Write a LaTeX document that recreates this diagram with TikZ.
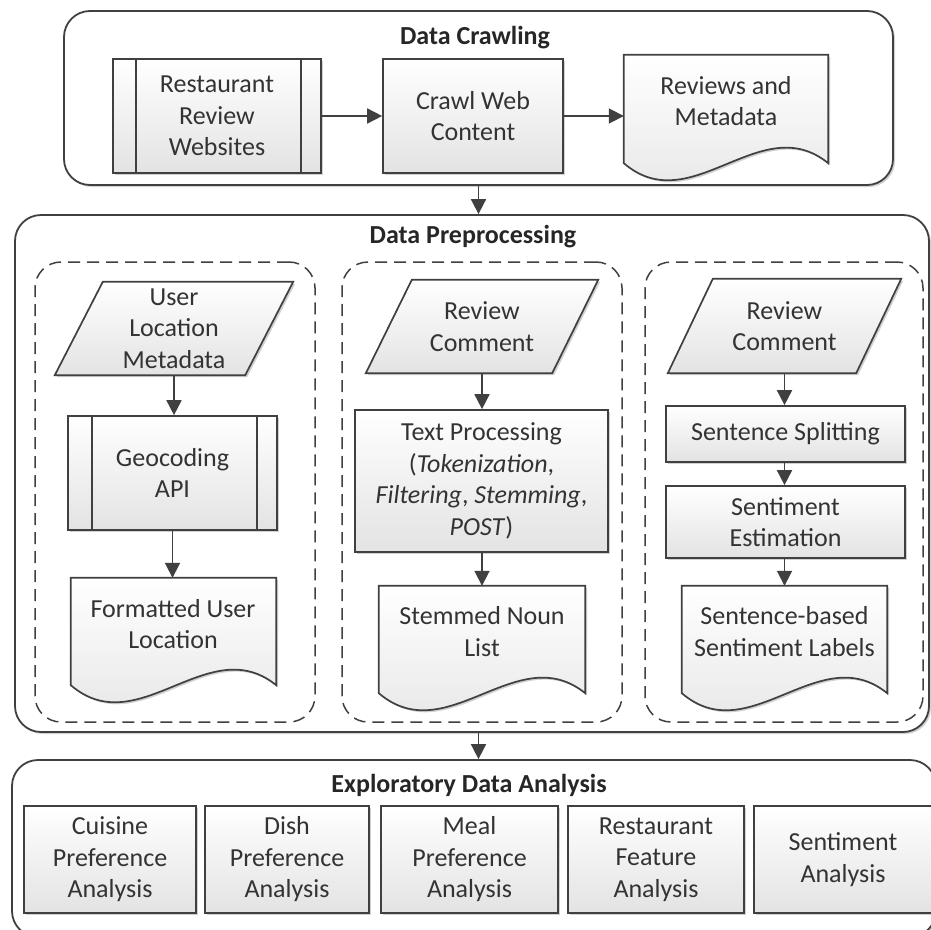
\documentclass[tikz,border=0pt]{standalone}
\usepackage{fontspec}
\setmainfont{Carlito}
\usetikzlibrary{arrows.meta,calc,shadows}
\definecolor{edge}{HTML}{404040}
\definecolor{txt}{HTML}{333333}
\pgfdeclarelayer{background}
\pgfdeclarelayer{shapes}
\pgfsetlayers{background,shapes,main}
\tikzset{
 every node/.style={font=\fontsize{26}{31.5}\selectfont, text=txt, align=center, inner sep=0pt},
 shd/.style={drop shadow={shadow xshift=2pt, shadow yshift=-2pt, opacity=0.18, fill=black}},
 container/.style={draw=edge, line width=1.8pt, rounded corners=26pt, fill=white, shd},
 grp/.style={draw=edge, line width=1.5pt, dash pattern=on 12pt off 7pt, rounded corners=26pt},
 ttl/.style={font=\fontsize{26}{31.5}\selectfont\bfseries, text=black!85},
 proc/.style={draw=edge, line width=1.7pt, top color=white, bottom color=black!11, shd},
 slot/.style={draw=none, fill=none},
 shapefill/.style={draw=edge, line width=1.7pt, top color=white, bottom color=black!11, shd},
 arr/.style={draw=edge, line width=1.8pt, -{Triangle[length=15pt,width=15pt]}},
 pline/.style={draw=edge, line width=1.7pt},
}
\newcommand{\predefl}[3]{%
 \draw[pline] ([xshift=#2pt]#1.north west) -- ([xshift=#2pt]#1.south west);
 \draw[pline] ([xshift=-#3pt]#1.north east) -- ([xshift=-#3pt]#1.south east);}
\newcommand{\parashape}[2]{%
 \begin{pgfonlayer}{shapes}
 \path[shapefill] ([xshift=#2pt]#1.north west) -- (#1.north east) -- ([xshift=-#2pt]#1.south east) -- (#1.south west) -- cycle;
 \end{pgfonlayer}}
\newcommand{\docshape}[1]{%
 \begin{pgfonlayer}{shapes}
 \path[shapefill] (#1.north west) -- (#1.north east) -- (#1.south east)
   .. controls ($(#1.south east)!0.33!(#1.south west)+(0,-55)$) and ($(#1.south east)!0.67!(#1.south west)+(0,58)$) .. (#1.south west) -- cycle;
 \end{pgfonlayer}}
\begin{document}
\begin{tikzpicture}[x=1pt,y=-1pt]
\useasboundingbox (0,0) rectangle (931,929);
% containers
\begin{pgfonlayer}{background}
\node[container, minimum width=829pt, minimum height=174pt] (dc) at (478.5,98) {};
\node[container, minimum width=914pt, minimum height=517pt] (dp) at (472,473.5) {};
\node[container, minimum width=924pt, minimum height=177pt] (eda) at (474,848.5) {};
\node[grp, minimum width=280pt, minimum height=460pt] (dl) at (175,492) {};
\node[grp, minimum width=280pt, minimum height=460pt] (dm) at (482,492) {};
\node[grp, minimum width=278pt, minimum height=460pt] (dr) at (784,492) {};
\end{pgfonlayer}
% titles
\node[ttl] (t1) at (475,38) {Data Crawling};
\node[ttl] (t2) at (473,237) {Data Preprocessing};
\node[ttl] (t3) at (469,785) {Exploratory Data Analysis};
% data crawling row
\node[proc, minimum width=208pt, minimum height=114pt] (rrw) at (217,116) {Restaurant\\Review\\Websites};
\predefl{rrw}{24}{21}
\node[proc, minimum width=180pt, minimum height=114pt] (cwc) at (473,116) {Crawl Web\\Content};
\node[slot, minimum width=204pt, minimum height=108pt] (rmd) at (726,109) {};
\docshape{rmd}
\node (rmdt) at (726,101) {Reviews and\\Metadata};
\draw[arr] (rrw.east) -- (cwc.west);
\draw[arr] (cwc.east) -- (cwc.east -| rmd.west);
% left column
\node[slot, minimum width=238pt, minimum height=93pt] (ulm) at (174,328.5) {User\\Location\\Metadata};
\parashape{ulm}{48}
\node[proc, minimum width=209pt, minimum height=114pt] (geo) at (172.5,473) {Geocoding\\API};
\predefl{geo}{25}{21}
\node[slot, minimum width=205pt, minimum height=107pt] (ful) at (173.5,631.5) {};
\docshape{ful}
\node (fult) at (173,624) {Formatted User\\Location};
\draw[arr] (ulm.south) -- (ulm.south |- geo.north);
\draw[arr] (geo.south) -- (geo.south |- ful.north);
% middle column
\node[slot, minimum width=232pt, minimum height=93pt] (rc1) at (482,326.5) {Review\\Comment};
\parashape{rc1}{46}
\node[proc, minimum width=253pt, minimum height=142pt] (tp) at (481.5,481) {Text Processing\\(\textit{Tokenization},\\\textit{Filtering}, \textit{Stemming},\\\textit{POST})};
\node[slot, minimum width=206pt, minimum height=107pt] (snl) at (482,639.5) {};
\docshape{snl}
\node (snlt) at (482,631.5) {Stemmed Noun\\List};
\draw[arr] (rc1.south) -- (rc1.south |- tp.north);
\draw[arr] (rc1.south |- tp.south) -- (rc1.south |- snl.north);
% right column
\node[slot, minimum width=233pt, minimum height=94pt] (rc2) at (784.5,326) {Review\\Comment};
\parashape{rc2}{45}
\node[proc, minimum width=239pt, minimum height=56pt] (ss) at (785.5,434) {Sentence Splitting};
\node[proc, minimum width=239pt, minimum height=72pt] (se) at (785.5,522) {Sentiment\\Estimation};
\node[slot, minimum width=205pt, minimum height=107pt] (sbl) at (784.5,639.5) {};
\docshape{sbl}
\node (sblt) at (784.5,631.5) {Sentence-based\\Sentiment Labels};
\draw[arr] (rc2.south) -- (rc2.south |- ss.north);
\draw[arr] (rc2.south |- ss.south) -- (rc2.south |- se.north);
\draw[arr] (rc2.south |- se.south) -- (rc2.south |- sbl.north);
% container arrows
\draw[arr] (dc.south) -- (dc.south |- dp.north);
\draw[arr] (dc.south |- dp.south) -- (dc.south |- eda.north);
% analysis row
\node[proc, minimum width=172pt, minimum height=107pt] (ca) at (110,859.5) {Cuisine\\Preference\\Analysis};
\node[proc, minimum width=164pt, minimum height=107pt] (da) at (287,859.5) {Dish\\Preference\\Analysis};
\node[proc, minimum width=177pt, minimum height=107pt] (ma) at (469.5,859.5) {Meal\\Preference\\Analysis};
\node[proc, minimum width=176pt, minimum height=107pt] (rfa) at (656,859.5) {Restaurant\\Feature\\Analysis};
\node[proc, minimum width=178pt, minimum height=107pt] (sa) at (843,859.5) {Sentiment\\Analysis};
\end{tikzpicture}
\end{document}
